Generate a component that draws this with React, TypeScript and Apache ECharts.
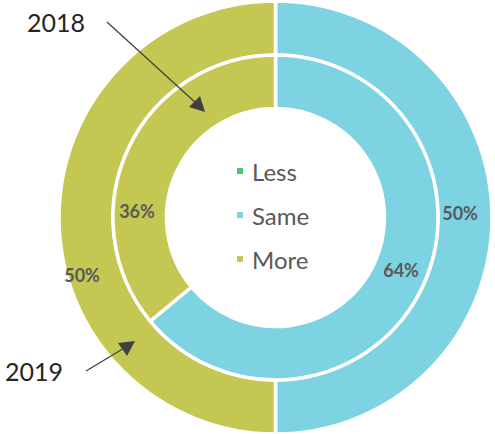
import React, { useEffect, useRef } from "react";
import * as echarts from "echarts";

const categories = ["Less", "Same", "More"];
const values2019 = [0, 50, 50];
const values2018 = [0, 64, 36];
const colors = ["#4CC473", "#7DD3E2", "#C4C852"];

export default function App() {
  const ref = useRef<HTMLDivElement>(null);
  useEffect(() => {
    const chart = echarts.init(ref.current!, null, { renderer: "svg" });
    const outerOff = [[0, 0], [-8, -5], [-1, 57]];
    const innerOff = [[0, 0], [0, -7], [-13, 53]];
    const labelStyle = {
      show: true,
      position: "inside",
      fontFamily: "Lato",
      fontWeight: "bold",
      fontSize: 18,
      color: "#595959",
      formatter: (p: any) => (p.value ? p.value + "%" : ""),
    };
    chart.setOption({
      animation: false,
      color: colors,
      legend: {
        data: categories,
        orient: "vertical",
        left: 235,
        top: 159,
        padding: 0,
        itemWidth: 8,
        itemHeight: 8,
        itemGap: 20,
        icon: "rect",
        selectedMode: false,
        textStyle: {
          fontFamily: "Lato",
          fontSize: 24,
          color: "#595959",
          padding: [0, 0, 0, 3],
        },
      },
      series: [
        {
          name: "2019",
          type: "pie",
          center: [275.5, 217.5],
          radius: [162.5, 216.5],
          startAngle: 90,
          clockwise: true,
          avoidLabelOverlap: false,
          silent: true,
          itemStyle: { borderColor: "#fff", borderWidth: 3.5 },
          label: labelStyle,
          labelLine: { show: false },
          labelLayout: (p: any) => ({ dx: outerOff[p.dataIndex][0], dy: outerOff[p.dataIndex][1] }),
          data: categories.map((c, i) => ({ name: c, value: values2019[i] })),
        },
        {
          name: "2018",
          type: "pie",
          center: [275.5, 217.5],
          radius: [109, 162.5],
          startAngle: 90,
          clockwise: true,
          avoidLabelOverlap: false,
          silent: true,
          itemStyle: { borderColor: "#fff", borderWidth: 3.5 },
          label: labelStyle,
          labelLine: { show: false },
          labelLayout: (p: any) => ({ dx: innerOff[p.dataIndex][0], dy: innerOff[p.dataIndex][1] }),
          data: categories.map((c, i) => ({ name: c, value: values2018[i] })),
        },
      ],
      graphic: [
        {
          type: "text",
          z: 100,
          x: 27,
          y: 9,
          style: { text: "2018", fontFamily: "Lato", fontSize: 25, fill: "#262626" },
        },
        {
          type: "text",
          z: 100,
          x: 5,
          y: 358,
          style: { text: "2019", fontFamily: "Lato", fontSize: 25, fill: "#262626" },
        },
        {
          type: "line",
          z: 100,
          shape: { x1: 107, y1: 22, x2: 197, y2: 104 },
          style: { stroke: "#404040", lineWidth: 1.3 },
        },
        {
          type: "polygon",
          z: 100,
          shape: { points: [[205, 112], [189, 107], [200, 96]] },
          style: { fill: "#404040" },
        },
        {
          type: "line",
          z: 100,
          shape: { x1: 86, y1: 371, x2: 126, y2: 347 },
          style: { stroke: "#404040", lineWidth: 1.3 },
        },
        {
          type: "polygon",
          z: 100,
          shape: { points: [[135, 341], [118, 343], [127, 356]] },
          style: { fill: "#404040" },
        },
      ],
    });
    return () => chart.dispose();
  }, []);
  return (
    <div
      ref={ref}
      style={{ position: "absolute", left: 0, top: 0, width: 495, height: 434, background: "#fff" }}
    />
  );
}
